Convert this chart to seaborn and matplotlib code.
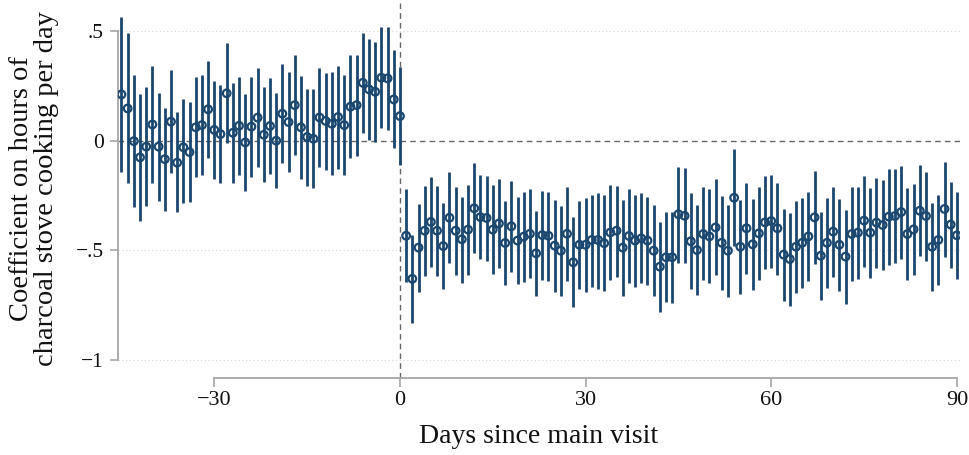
import seaborn as sns
import pandas as pd
import numpy as np
import matplotlib.pyplot as plt

# days relative to main visit
days = list(range(-45, 91))

coef_pre = [0.211, 0.147, -0.002, -0.076, -0.027, 0.074, -0.027, -0.084, 0.087, -0.100,
            -0.030, -0.052, 0.061, 0.071, 0.143, 0.049, 0.030, 0.216, 0.036, 0.068,
            -0.008, 0.064, 0.105, 0.027, 0.067, 0.000, 0.123, 0.085, 0.162, 0.061,
            0.017, 0.009, 0.106, 0.090, 0.077, 0.108, 0.071, 0.155, 0.162, 0.264,
            0.234, 0.223, 0.287, 0.284, 0.188, 0.112]
hi_pre = [0.562, 0.489, 0.298, 0.213, 0.243, 0.340, 0.219, 0.147, 0.322, 0.129,
          0.188, 0.178, 0.292, 0.298, 0.364, 0.273, 0.254, 0.443, 0.264, 0.292,
          0.211, 0.289, 0.330, 0.243, 0.284, 0.216, 0.348, 0.311, 0.390, 0.296,
          0.237, 0.235, 0.330, 0.310, 0.311, 0.340, 0.298, 0.390, 0.390, 0.492,
          0.462, 0.449, 0.516, 0.516, 0.413, 0.334]
lo_pre = [-0.141, -0.194, -0.304, -0.366, -0.296, -0.191, -0.273, -0.319, -0.149, -0.326,
          -0.282, -0.281, -0.167, -0.156, -0.080, -0.176, -0.194, -0.012, -0.191, -0.155,
          -0.229, -0.164, -0.118, -0.190, -0.153, -0.214, -0.103, -0.141, -0.065, -0.175,
          -0.207, -0.217, -0.118, -0.134, -0.156, -0.128, -0.156, -0.080, -0.068, 0.036,
          0.003, -0.006, 0.056, 0.049, -0.035, -0.111]

coef_post = [-0.433, -0.629, -0.487, -0.410, -0.370, -0.410, -0.480, -0.351, -0.410, -0.449,
             -0.405, -0.308, -0.348, -0.352, -0.405, -0.377, -0.466, -0.390, -0.455, -0.437,
             -0.424, -0.513, -0.430, -0.433, -0.478, -0.501, -0.424, -0.554, -0.474, -0.474,
             -0.452, -0.452, -0.467, -0.418, -0.410, -0.487, -0.434, -0.455, -0.445, -0.455,
             -0.501, -0.574, -0.531, -0.531, -0.335, -0.342, -0.458, -0.498, -0.425, -0.436,
             -0.395, -0.465, -0.501, -0.260, -0.483, -0.399, -0.472, -0.422, -0.372, -0.366,
             -0.399, -0.519, -0.539, -0.483, -0.465, -0.436, -0.349, -0.524, -0.465, -0.414,
             -0.474, -0.528, -0.425, -0.419, -0.364, -0.419, -0.373, -0.384, -0.346, -0.343,
             -0.325, -0.425, -0.404, -0.319, -0.343, -0.483, -0.452, -0.311, -0.382, -0.431]
hi_post = [-0.222, -0.430, -0.290, -0.206, -0.167, -0.206, -0.285, -0.144, -0.212, -0.255,
           -0.202, -0.103, -0.155, -0.159, -0.203, -0.176, -0.275, -0.182, -0.258, -0.232,
           -0.222, -0.319, -0.228, -0.232, -0.270, -0.297, -0.213, -0.346, -0.273, -0.261,
           -0.246, -0.237, -0.249, -0.202, -0.206, -0.270, -0.220, -0.247, -0.237, -0.255,
           -0.294, -0.369, -0.325, -0.325, -0.118, -0.126, -0.240, -0.293, -0.212, -0.222,
           -0.176, -0.252, -0.294, -0.039, -0.270, -0.194, -0.266, -0.209, -0.159, -0.156,
           -0.191, -0.311, -0.331, -0.275, -0.263, -0.235, -0.138, -0.323, -0.263, -0.212,
           -0.267, -0.316, -0.209, -0.212, -0.159, -0.217, -0.171, -0.179, -0.129, -0.130,
           -0.114, -0.214, -0.199, -0.112, -0.141, -0.282, -0.247, -0.099, -0.190, -0.234]
lo_post = [-0.642, -0.832, -0.688, -0.616, -0.577, -0.616, -0.676, -0.556, -0.610, -0.647,
           -0.610, -0.513, -0.537, -0.547, -0.606, -0.581, -0.659, -0.600, -0.654, -0.644,
           -0.627, -0.706, -0.635, -0.638, -0.688, -0.708, -0.638, -0.759, -0.676, -0.688,
           -0.668, -0.674, -0.683, -0.635, -0.620, -0.708, -0.650, -0.668, -0.650, -0.659,
           -0.708, -0.782, -0.736, -0.741, -0.556, -0.559, -0.677, -0.703, -0.635, -0.650,
           -0.612, -0.680, -0.711, -0.480, -0.698, -0.607, -0.680, -0.635, -0.586, -0.581,
           -0.612, -0.729, -0.752, -0.695, -0.673, -0.638, -0.562, -0.726, -0.670, -0.620,
           -0.683, -0.744, -0.641, -0.632, -0.574, -0.626, -0.581, -0.589, -0.568, -0.559,
           -0.539, -0.635, -0.612, -0.525, -0.547, -0.685, -0.659, -0.528, -0.578, -0.630]

xticks = [-30, 0, 30, 60, 90]
yticks = [0.5, 0, -0.5, -1]
ytick_labels = ['.5', '0', '\u2212.5', '\u22121']
xtick_labels = ['\u221230', '0', '30', '60', '90']

df = pd.DataFrame({'day': days,
                   'coef': coef_pre + coef_post,
                   'lo': lo_pre + lo_post,
                   'hi': hi_pre + hi_post})

sns.set_theme(style='white')
plt.rcParams['font.family'] = ['Liberation Serif', 'DejaVu Serif']
navy = '#1a476f'
axcol = '#a6a6a6'
txtcol = '#111111'

fig = plt.figure(figsize=(9.69, 4.55), dpi=100)
ax = fig.add_axes([118/969, 1 - 378/455, (960-118)/969, 378/455])
ax.set_xlim(-45.56, 90.5)
ax.set_ylim(-1.081, 0.641)

# grid + reference lines
for yv in [0.5, -0.5, -1]:
    ax.axhline(yv, color='#d9d9d9', lw=0.9, ls=(0, (1, 2)), zorder=0)
ax.axhline(0, color='#666666', lw=1.0, ls=(0, (4, 3)), zorder=1)
ax.axvline(0, color='#666666', lw=1.0, ls=(0, (4, 3)), zorder=1)

ax.vlines(df['day'], df['lo'], df['hi'], color=navy, lw=2.0, zorder=2)
sns.scatterplot(data=df, x='day', y='coef', ax=ax, marker='o', s=30,
                facecolor='none', edgecolor=navy, linewidth=1.6, zorder=3)

ax.set_xticks(xticks)
ax.set_xticklabels(xtick_labels)
ax.set_yticks(yticks)
ax.set_yticklabels(ytick_labels)
for sp in ['top', 'right']:
    ax.spines[sp].set_visible(False)
ax.spines['left'].set_bounds(-1, 0.5)
ax.spines['bottom'].set_bounds(-30, 90)
for sp in ['left', 'bottom']:
    ax.spines[sp].set_color(axcol)
    ax.spines[sp].set_linewidth(1.3)
ax.tick_params(axis='both', which='both', direction='out', width=1.2,
               color=axcol, labelcolor=txtcol, left=True, bottom=True)
ax.tick_params(axis='y', length=6, pad=4, labelsize=15.5)
ax.tick_params(axis='x', length=6.5, pad=3, labelsize=16)
ax.set_xlabel('')
ax.set_ylabel('')

fig.text(539/969, 1 - 443/455, 'Days since main visit', ha='center', va='baseline',
         fontsize=20, color=txtcol)
fig.text(28/969, 1 - 189/455, 'Coefficient on hours of', ha='center', va='baseline',
         rotation=90, rotation_mode='anchor', fontsize=20.5, color=txtcol)
fig.text(53/969, 1 - 189/455, 'charcoal stove cooking per day', ha='center', va='baseline',
         rotation=90, rotation_mode='anchor', fontsize=20.5, color=txtcol)

fig.savefig('out.png', dpi=100)
